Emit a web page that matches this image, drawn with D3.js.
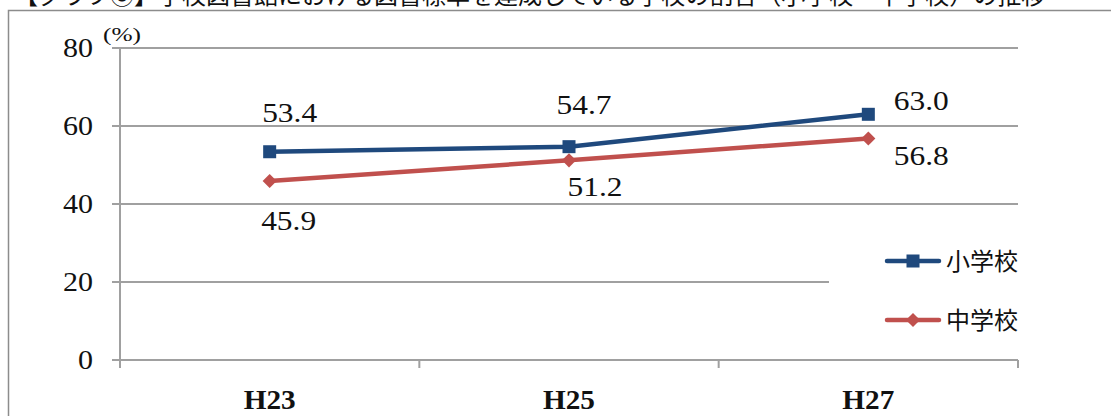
<!DOCTYPE html>
<html><head><meta charset="utf-8">
<script src="https://cdn.jsdelivr.net/npm/d3@7"></script>
<style>html,body{margin:0;padding:0;background:#fff;overflow:hidden}</style>
</head><body>
<svg id="c" width="1111" height="416"></svg>
<script>
const titleText = "【グラフ⑧】学校図書館における図書標準を達成している学校の割合（小学校・中学校）の推移";
const categories = ["H23", "H25", "H27"];
const elementary = [53.4, 54.7, 63.0];
const juniorHigh = [45.9, 51.2, 56.8];
const seriesNames = ["小学校", "中学校"];
const yTicks = [0, 20, 40, 60, 80];

const svg = d3.select("#c");
const serif = "'Liberation Serif', 'Times New Roman', serif";
const cjk = "'Noto Sans CJK JP', sans-serif";

// partially visible title & frame
svg.append("text").attr("x", 14).attr("y", 4).attr("font-family", cjk).attr("font-size", 24)
  .attr("fill", "#111").text(titleText);
svg.append("rect").attr("x", 8.5).attr("y", 10.5).attr("width", 1200).attr("height", 500)
  .attr("fill", "#fff").attr("stroke", "#8c8c8c").attr("stroke-width", 1.5);

const x = d3.scaleBand().domain(categories).range([120, 1018]);
const y = d3.scaleLinear().domain([0, 80]).range([360, 48]);

// gridlines
svg.append("g").selectAll("line").data(yTicks).join("line")
  .attr("x1", 112).attr("x2", 1018)
  .attr("y1", d => y(d)).attr("y2", d => y(d))
  .attr("stroke", "#a0a0a0").attr("stroke-width", 2);

// y axis line
svg.append("line").attr("x1", 120).attr("x2", 120).attr("y1", y(80)).attr("y2", 368)
  .attr("stroke", "#a0a0a0").attr("stroke-width", 2);
// x ticks
const xTickPos = categories.map(c => x(c)).concat([x(categories[categories.length-1]) + x.bandwidth()]);
svg.append("g").selectAll("line").data(xTickPos).join("line")
  .attr("x1", d => d).attr("x2", d => d).attr("y1", 360).attr("y2", 368)
  .attr("stroke", "#a0a0a0").attr("stroke-width", 2);

// y labels
svg.append("g").selectAll("text").data(yTicks).join("text")
  .attr("x", 93).attr("y", d => y(d) + 9).attr("text-anchor", "end")
  .attr("font-family", serif).attr("font-size", 27).attr("fill", "#111")
  .attr("textLength", d => String(d).length * 15).attr("lengthAdjust", "spacingAndGlyphs")
  .text(d => d);
svg.append("text").attr("x", 103).attr("y", 41).attr("font-family", serif).attr("font-size", 19)
  .attr("fill", "#111").attr("textLength", 38).attr("lengthAdjust", "spacingAndGlyphs").text("(%)");

// x labels
svg.append("g").selectAll("text").data(categories).join("text")
  .attr("x", d => x(d) + x.bandwidth()/2).attr("y", 409).attr("text-anchor", "middle")
  .attr("font-family", serif).attr("font-size", 27).attr("font-weight", "bold")
  .attr("textLength", 52).attr("lengthAdjust", "spacingAndGlyphs")
  .attr("fill", "#111").text(d => d);

const cx = c => x(c) + x.bandwidth()/2;
const line = d3.line().x((d, i) => cx(categories[i])).y(d => y(d));
const blue = "#1f497d", red = "#c0504d";

svg.append("path").datum(juniorHigh).attr("d", line).attr("fill", "none")
  .attr("stroke", red).attr("stroke-width", 4.5).attr("stroke-linejoin", "round");
svg.append("path").datum(elementary).attr("d", line).attr("fill", "none")
  .attr("stroke", blue).attr("stroke-width", 4.5).attr("stroke-linejoin", "round");

const sq = 13;
svg.append("g").selectAll("path").data(juniorHigh).join("path")
  .attr("d", d3.symbol().type(d3.symbolSquare).size(100)())
  .attr("transform", (d, i) => `translate(${cx(categories[i])},${y(d)}) rotate(45)`)
  .attr("fill", red);
svg.append("g").selectAll("rect").data(elementary).join("rect")
  .attr("x", (d, i) => cx(categories[i]) - sq/2).attr("y", d => y(d) - sq/2)
  .attr("width", sq).attr("height", sq).attr("fill", blue);

// data labels: offsets [dx, dy] relative to point, per series
const elemOffsets = [[20, -30], [15, -33], [53, -4]];
const jrOffsets = [[19, 49], [26, 36], [53, 27]];
const fmt = d3.format(".1f");
function labels(data, offs) {
  svg.append("g").selectAll("text").data(data).join("text")
    .attr("x", (d, i) => cx(categories[i]) + offs[i][0])
    .attr("y", (d, i) => y(d) + offs[i][1]).attr("text-anchor", "middle")
    .attr("font-family", serif).attr("font-size", 27).attr("fill", "#111")
    .attr("textLength", 55).attr("lengthAdjust", "spacingAndGlyphs").text(fmt);
}
labels(elementary, elemOffsets);
labels(juniorHigh, jrOffsets);

// legend
const lg = svg.append("g");
lg.append("rect").attr("x", 829).attr("y", 228).attr("width", 215).attr("height", 120).attr("fill", "#fff");
const legendY = [261, 320];
[blue, red].forEach((col, i) => {
  lg.append("line").attr("x1", 887).attr("x2", 939).attr("y1", legendY[i]).attr("y2", legendY[i])
    .attr("stroke", col).attr("stroke-width", 4.5).attr("stroke-linecap", "round");
  if (i === 0) {
    lg.append("rect").attr("x", 913 - 6.5).attr("y", legendY[i] - 6.5).attr("width", 13).attr("height", 13).attr("fill", col);
  } else {
    lg.append("path").attr("d", d3.symbol().type(d3.symbolSquare).size(100)())
      .attr("transform", `translate(913,${legendY[i]}) rotate(45)`).attr("fill", col);
  }
  lg.append("text").attr("x", 946).attr("y", legendY[i] + 9).attr("font-family", cjk)
    .attr("font-size", 24).attr("fill", "#111").text(seriesNames[i]);
});
</script>
</body></html>
